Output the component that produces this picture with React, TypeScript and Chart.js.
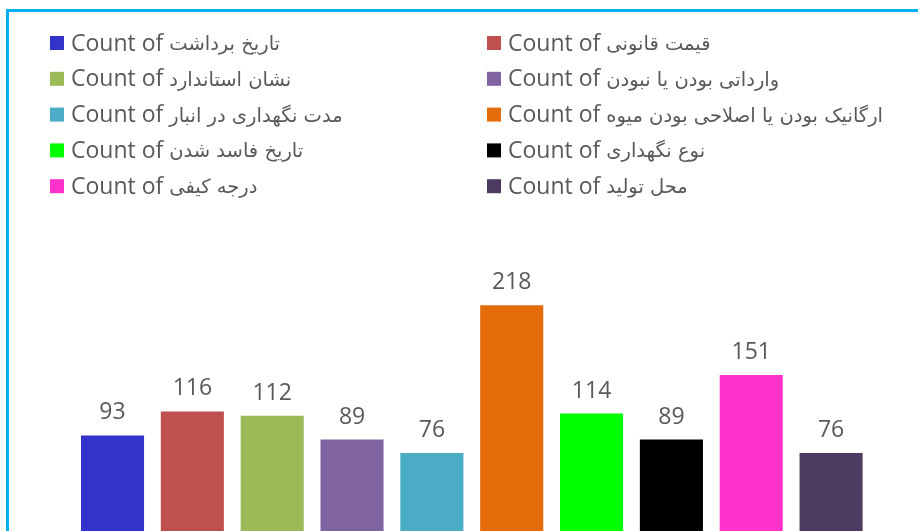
import React, { useEffect, useRef } from 'react';
import { Chart, registerables } from 'chart.js';

Chart.register(...registerables);

const categories = ['Total'];
const seriesPrefix = 'Count of ';
const seriesNames = [
  'تاریخ برداشت',
  'قیمت قانونی',
  'نشان استاندارد',
  'وارداتی بودن یا نبودن',
  'مدت نگهداری در انبار',
  'ارگانیک بودن یا اصلاحی بودن میوه',
  'تاریخ فاسد شدن',
  'نوع نگهداری',
  'درجه کیفی',
  'محل تولید',
];
const seriesValues = [93, 116, 112, 89, 76, 218, 114, 89, 151, 76];
const seriesColors = [
  '#3333CC',
  '#C0504D',
  '#9BBB59',
  '#8064A2',
  '#4BACC6',
  '#E46C0A',
  '#00FF00',
  '#000000',
  '#FF33CC',
  '#4D3B61',
];

const FONT = '"Open Sans", "DejaVu Sans", sans-serif';
const AR_FONT = '"DejaVu Sans", sans-serif';
const TEXT_COLOR = '#595959';

const gridLegend = {
  id: 'gridLegend',
  afterDraw(chart: any) {
    const ctx = chart.ctx;
    const colX = [50, 487];
    const rowY0 = 43;
    const rowGap = 35.8;
    const box = 14;
    ctx.save();
    ctx.textBaseline = 'middle';
    ctx.textAlign = 'left';
    chart.data.datasets.forEach((ds: any, i: number) => {
      const col = i % 2;
      const row = Math.floor(i / 2);
      const x = colX[col];
      const y = rowY0 + row * rowGap;
      ctx.fillStyle = ds.backgroundColor;
      ctx.fillRect(x, y - box / 2, box, box);
      ctx.fillStyle = TEXT_COLOR;
      const label: string = ds.label;
      const prefix = label.startsWith(seriesPrefix) ? seriesPrefix : '';
      const rest = label.slice(prefix.length);
      ctx.direction = 'ltr';
      ctx.font = `23px ${FONT}`;
      ctx.fillText(prefix, x + 21, y + 1);
      const w = ctx.measureText(prefix).width;
      ctx.direction = 'rtl';
      ctx.font = `19.5px ${AR_FONT}`;
      ctx.textAlign = 'left';
      ctx.fillText(rest, x + 21 + w, y + 2);
      ctx.direction = 'ltr';
    });
    ctx.restore();
  },
};

const valueLabels = {
  id: 'valueLabels',
  afterDatasetsDraw(chart: any) {
    const ctx = chart.ctx;
    ctx.save();
    ctx.font = `23px ${FONT}`;
    ctx.fillStyle = TEXT_COLOR;
    ctx.textAlign = 'center';
    ctx.textBaseline = 'alphabetic';
    chart.data.datasets.forEach((ds: any, i: number) => {
      const meta = chart.getDatasetMeta(i);
      meta.data.forEach((el: any, j: number) => {
        ctx.fillText(String(ds.data[j]), el.x, el.y - 16);
      });
    });
    ctx.restore();
  },
};

export default function App() {
  const ref = useRef<HTMLCanvasElement | null>(null);

  useEffect(() => {
    if (!ref.current) return;
    const chart = new Chart(ref.current, {
      type: 'bar',
      data: {
        labels: categories,
        datasets: seriesNames.map((name, i) => ({
          label: seriesPrefix + name,
          data: [seriesValues[i]],
          backgroundColor: seriesColors[i],
          borderWidth: 0,
          categoryPercentage: 1,
          barPercentage: 0.79,
        })),
      },
      options: {
        animation: false,
        responsive: false,
        devicePixelRatio: 1,
        layout: {
          padding: { left: 72.6, right: 47, top: 272, bottom: 12.8 },
        },
        scales: {
          x: { display: false },
          y: { display: false, min: 0, max: 250 },
        },
        plugins: {
          legend: { display: false },
          tooltip: { enabled: false },
          title: { display: false },
        },
      },
      plugins: [gridLegend, valueLabels],
    });
    return () => chart.destroy();
  }, []);

  return (
    <div
      style={{
        position: 'fixed',
        left: 0,
        top: 0,
        width: 918,
        height: 531,
        overflow: 'hidden',
        background: '#ffffff',
      }}
    >
      <canvas
        ref={ref}
        width={918}
        height={545}
        style={{ position: 'absolute', left: 0, top: 0, width: 918, height: 545 }}
      />
      <div
        style={{
          position: 'absolute',
          left: 6,
          top: 9,
          width: 940,
          height: 560,
          borderTop: '3px solid #00B0F0',
          borderLeft: '3px solid #00B0F0',
          pointerEvents: 'none',
        }}
      />
    </div>
  );
}
